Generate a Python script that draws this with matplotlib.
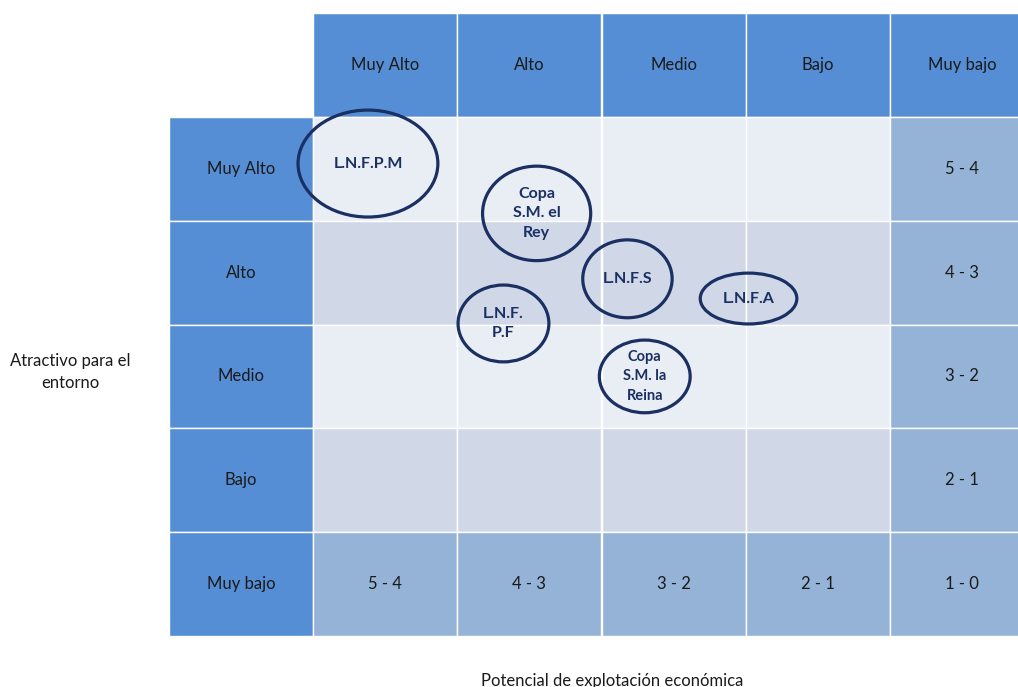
import matplotlib
matplotlib.use("Agg")
import matplotlib.pyplot as plt
from matplotlib.patches import Rectangle, Ellipse

plt.rcParams['font.family'] = ['Lato', 'DejaVu Sans']

# ---- data ----
col_labels = ["Muy Alto", "Alto", "Medio", "Bajo", "Muy bajo"]
row_labels = ["Muy Alto", "Alto", "Medio", "Bajo", "Muy bajo"]
score_col = ["5 - 4", "4 - 3", "3 - 2", "2 - 1"]          # last column, rows 0..3
score_row = ["5 - 4", "4 - 3", "3 - 2", "2 - 1", "1 - 0"]  # last row, cols 0..4

items = ["L.N.F.P.M", "Copa\nS.M. el\nRey", "L.N.F.S", "L.N.F.A", "L.N.F.\nP.F", "Copa\nS.M. la\nReina"]
item_x = [0.38, 1.55, 2.18, 3.02, 1.32, 2.30]
item_y = [0.45, 0.93, 1.56, 1.75, 1.99, 2.50]
item_w = [0.97, 0.75, 0.62, 0.67, 0.63, 0.63]
item_h = [1.03, 0.91, 0.75, 0.49, 0.74, 0.70]
item_fs = [11.5, 11.5, 11.5, 11.5, 11.5, 10.5]

x_title = "Potencial de explotación económica"
y_title = "Atractivo para el\nentorno"

# ---- style ----
header_blue = "#558ED5"
light1 = "#E9EDF4"
light2 = "#D0D8E8"
mid = "#95B3D7"
navy = "#1A2F62"
txt = "#1A1A1A"

W, H = 1018, 687
fig = plt.figure(figsize=(W / 100, H / 100), dpi=100)
left_px, right_px, top_px, bot_px = 169, 1034, 13, 636
ax = fig.add_axes([left_px / W, 1 - bot_px / H, (right_px - left_px) / W, (bot_px - top_px) / H])
ax.set_xlim(-1, 5)
ax.set_ylim(5, -1)
ax.axis("off")

n = len(col_labels)
for r in range(-1, n):
    for c in range(-1, n):
        if r == -1 and c == -1:
            continue
        if r == -1 or c == -1:
            fc = header_blue
        elif r == n - 1 or c == n - 1:
            fc = mid
        else:
            fc = light1 if r % 2 == 0 else light2
        ax.add_patch(Rectangle((c, r), 1, 1, facecolor=fc, edgecolor="white", lw=1.0, clip_on=False))

for i, lab in enumerate(col_labels):
    ax.text(i + 0.5, -0.5, lab, ha="center", va="center", fontsize=12, color=txt)
for i, lab in enumerate(row_labels):
    ax.text(-0.5, i + 0.5, lab, ha="center", va="center", fontsize=12, color=txt)
for i, lab in enumerate(score_col):
    ax.text(n - 0.5, i + 0.5, lab, ha="center", va="center", fontsize=12, color=txt)
for i, lab in enumerate(score_row):
    ax.text(i + 0.5, n - 0.5, lab, ha="center", va="center", fontsize=12, color=txt)

for lab, x, y, w, h, fs in zip(items, item_x, item_y, item_w, item_h, item_fs):
    ax.add_patch(Ellipse((x, y), w, h, facecolor="none", edgecolor=navy, lw=2.3, clip_on=False))
    ax.text(x, y, lab, ha="center", va="center", fontsize=fs, color=navy,
            fontweight="bold", linespacing=1.5)

fig.text(70 / W, 1 - 372 / H, y_title, ha="center", va="center", fontsize=12, color=txt, linespacing=1.4)
fig.text(612 / W, 1 - 681 / H, x_title, ha="center", va="center", fontsize=12, color=txt)

fig.savefig("out.png", dpi=100)
